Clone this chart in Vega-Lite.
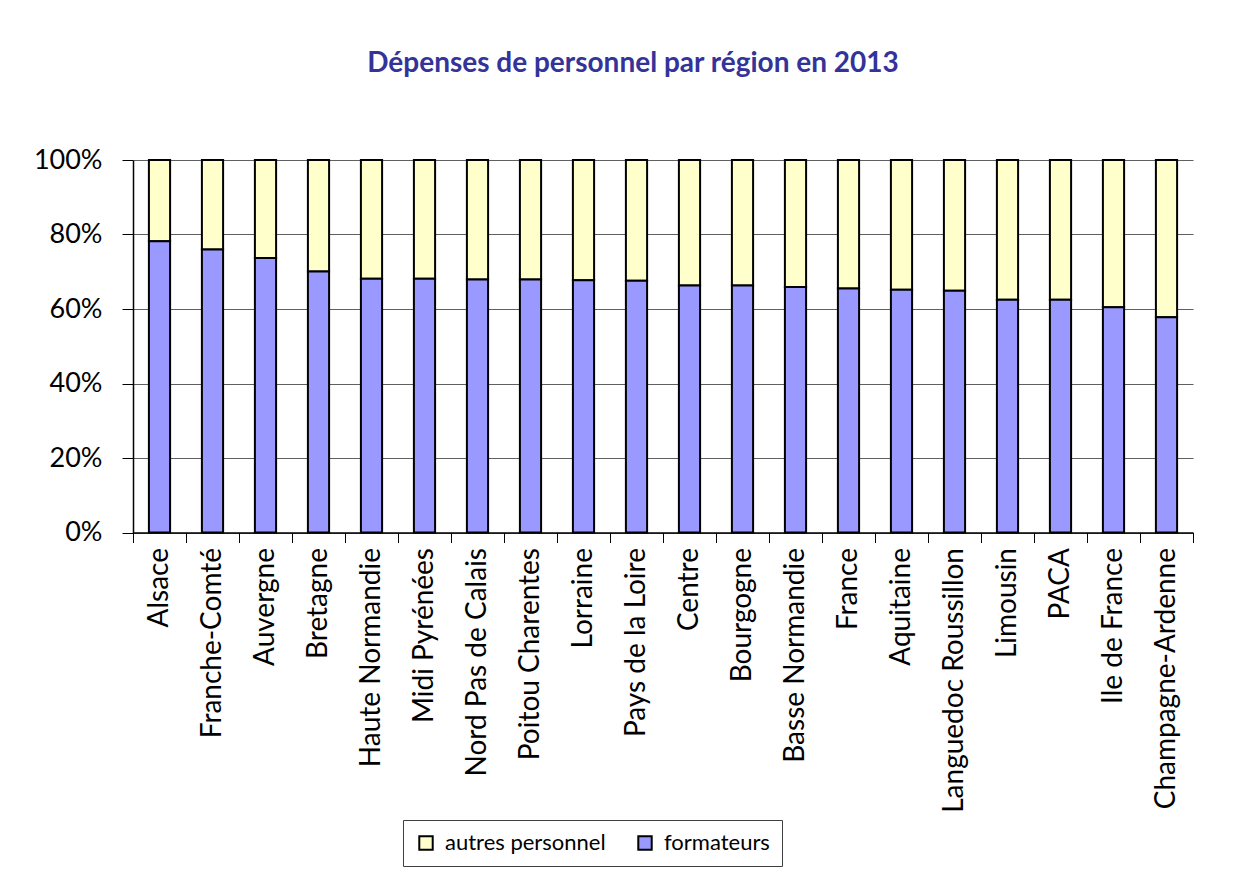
{
  "$schema": "https://vega.github.io/schema/vega-lite/v6.json",
  "width": 1060,
  "height": 372.5,
  "autosize": {"type": "none"},
  "padding": {"left": 133, "top": 160, "right": 58, "bottom": 348.5},
  "background": "white",
  "title": {
    "text": "Dépenses de personnel par région en 2013",
    "font": "Lato",
    "fontSize": 28,
    "fontWeight": "bold",
    "color": "#333399",
    "anchor": "middle",
    "dx": -30,
    "offset": 68
  },
  "config": {
    "view": {"stroke": null},
    "font": "Lato"
  },
  "data": {
    "values": [
      {"region": "Alsace", "formateurs": 0.782, "autres personnel": 0.218},
      {"region": "Franche-Comté", "formateurs": 0.760, "autres personnel": 0.240},
      {"region": "Auvergne", "formateurs": 0.737, "autres personnel": 0.263},
      {"region": "Bretagne", "formateurs": 0.701, "autres personnel": 0.299},
      {"region": "Haute Normandie", "formateurs": 0.681, "autres personnel": 0.319},
      {"region": "Midi Pyrénées", "formateurs": 0.681, "autres personnel": 0.319},
      {"region": "Nord Pas de Calais", "formateurs": 0.679, "autres personnel": 0.321},
      {"region": "Poitou Charentes", "formateurs": 0.679, "autres personnel": 0.321},
      {"region": "Lorraine", "formateurs": 0.677, "autres personnel": 0.323},
      {"region": "Pays de la Loire", "formateurs": 0.676, "autres personnel": 0.324},
      {"region": "Centre", "formateurs": 0.663, "autres personnel": 0.337},
      {"region": "Bourgogne", "formateurs": 0.663, "autres personnel": 0.337},
      {"region": "Basse Normandie", "formateurs": 0.659, "autres personnel": 0.341},
      {"region": "France", "formateurs": 0.655, "autres personnel": 0.345},
      {"region": "Aquitaine", "formateurs": 0.652, "autres personnel": 0.348},
      {"region": "Languedoc Roussillon", "formateurs": 0.649, "autres personnel": 0.351},
      {"region": "Limousin", "formateurs": 0.625, "autres personnel": 0.375},
      {"region": "PACA", "formateurs": 0.625, "autres personnel": 0.375},
      {"region": "Ile de France", "formateurs": 0.605, "autres personnel": 0.395},
      {"region": "Champagne-Ardenne", "formateurs": 0.578, "autres personnel": 0.422}
    ]
  },
  "transform": [
    {"fold": ["autres personnel", "formateurs"], "as": ["categorie", "part"]}
  ],
  "mark": {"type": "bar", "width": {"band": 0.4}, "stroke": "black", "strokeWidth": 2},
  "encoding": {
    "x": {
      "field": "region",
      "type": "nominal",
      "sort": null,
      "scale": {"paddingInner": 0, "paddingOuter": 0},
      "axis": {
        "title": null,
        "labelAngle": -90,
        "labelFont": "Lato",
        "labelFontSize": 28,
        "labelColor": "black",
        "labelPadding": 5,
        "tickBand": "extent",
        "tickSize": 10,
        "tickColor": "black",
        "domainColor": "black",
        "domainWidth": 1.5,
        "labelLimit": 400
      }
    },
    "y": {
      "field": "part",
      "type": "quantitative",
      "stack": "zero",
      "scale": {"domain": [0, 1]},
      "axis": {
        "title": null,
        "format": ".0%",
        "values": [0, 0.2, 0.4, 0.6, 0.8, 1],
        "labelFont": "Lato",
        "labelFontSize": 27,
        "labelColor": "black",
        "labelPadding": 20,
        "tickSize": 11,
        "tickColor": "black",
        "domainColor": "black",
        "domainWidth": 1.5,
        "grid": true,
        "gridColor": "#606060",
        "gridWidth": 1.2
      }
    },
    "color": {
      "field": "categorie",
      "type": "nominal",
      "scale": {"domain": ["autres personnel", "formateurs"], "range": ["#FFFFCC", "#9999FF"]},
      "legend": {
        "title": null,
        "orient": "none",
        "legendX": 270,
        "legendY": 660,
        "direction": "horizontal",
        "strokeColor": "#404040",
        "fillColor": "white",
        "padding": 12,
        "symbolType": "square",
        "symbolSize": 180,
        "symbolStrokeColor": "black",
        "symbolStrokeWidth": 2,
        "symbolOpacity": 1,
        "labelFont": "Lato",
        "labelFontSize": 22,
        "labelColor": "black",
        "labelOffset": 8,
        "labelLimit": 300,
        "columnPadding": 28
      }
    },
    "order": {"field": "categorie", "sort": "descending"}
  }
}
